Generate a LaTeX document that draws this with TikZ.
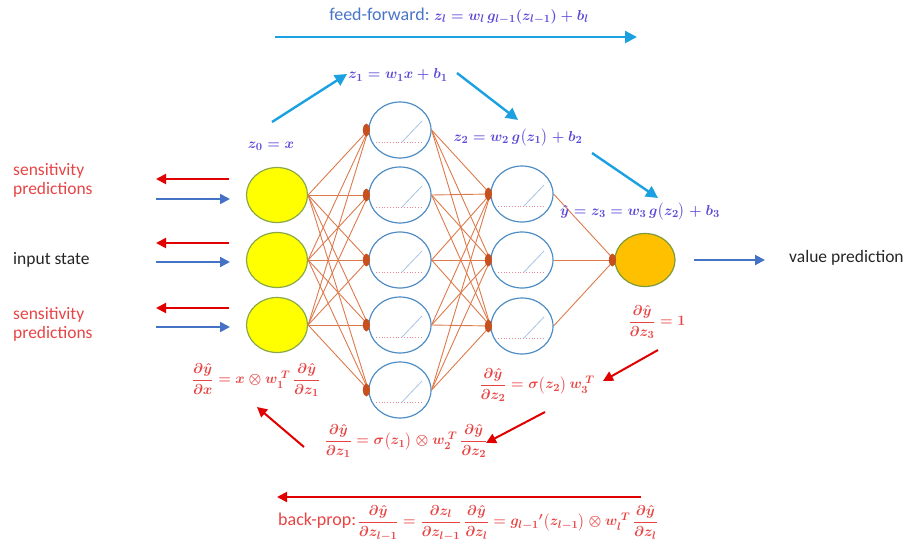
\documentclass[tikz,border=0pt]{standalone}
\usepackage{amsmath}
\usepackage[no-math]{fontspec}
\setmainfont{Carlito}
\usetikzlibrary{shapes.geometric,arrows.meta}
\definecolor{ffblue}{HTML}{4A74C8}
\definecolor{mathblue}{HTML}{5A48D8}
\definecolor{cyanarr}{HTML}{1BA1E2}
\definecolor{redtxt}{HTML}{E84444}
\definecolor{redarr}{HTML}{E00000}
\definecolor{bluearr}{HTML}{4472C4}
\definecolor{conn}{HTML}{DD7A4C}
\definecolor{dotc}{HTML}{C8501E}
\definecolor{ylw}{HTML}{FFFF00}
\definecolor{ylwb}{HTML}{8AA84A}
\definecolor{org}{HTML}{FFC000}
\definecolor{orgb}{HTML}{7F9A3A}
\definecolor{hidb}{HTML}{4E8DC4}
\definecolor{plotb}{HTML}{A8C4E4}
\definecolor{plotp}{HTML}{E88898}
\begin{document}
\begin{tikzpicture}[x=1pt,y=-1pt,
  inp/.style={ellipse,draw=ylwb,line width=1.2pt,fill=ylw,minimum width=61pt,minimum height=55pt,inner sep=0pt},
  outn/.style={ellipse,draw=orgb,line width=1.2pt,fill=org,minimum width=60pt,minimum height=53pt,inner sep=0pt},
  hid/.style={ellipse,draw=hidb,line width=1.2pt,fill=white,minimum width=62pt,minimum height=56pt,inner sep=0pt},
  wire/.style={draw=conn,line width=0.9pt},
  cyarr/.style={draw=cyanarr,line width=2.4pt,-{Triangle[length=12pt,width=12pt]}},
  rdarr/.style={draw=redarr,line width=2pt,-{Triangle[length=10pt,width=10pt]}},
  blarr/.style={draw=bluearr,line width=2pt,-{Triangle[length=10pt,width=10pt]}},
  mb/.style={text=mathblue,font=\fontsize{15.5}{18}\selectfont\boldmath,inner sep=0pt},
  mr/.style={text=redtxt,font=\fontsize{15.5}{18}\selectfont\boldmath,inner sep=0pt},
  lbl/.style={font=\fontsize{17.5}{19}\selectfont,align=left,inner sep=0pt,anchor=west}]
\useasboundingbox (0,0) rectangle (909,557);

% nodes
\node[inp] (i1) at (277,195) {};
\node[inp] (i2) at (277,260) {};
\node[inp] (i3) at (277,325) {};
\foreach \k/\yy in {1/130,2/195,3/260,4/325,5/390}{
  \node[hid] (h\k) at (400,\yy) {};
}
\foreach \k/\yy in {1/194,2/260,3/326}{
  \node[hid] (g\k) at (522,\yy) {};
}
\node[outn] (o) at (645,260) {};

% plots inside hidden nodes
\foreach \n in {h1,h2,h3,h4,h5,g1,g2,g3}{
  \draw[plotp,dotted,line width=0.8pt] ([shift={(-24,12)}]\n.center) -- ([shift={(23,12)}]\n.center);
  \draw[plotb,line width=0.8pt] ([shift={(2,12)}]\n.center) -- ([shift={(22,-9)}]\n.center);
}

% wires
\foreach \a in {i1,i2,i3}{
  \foreach \b in {h1,h2,h3,h4,h5}{
    \draw[wire] (\a.east) -- (\b.west);
  }
}
\foreach \a in {h1,h2,h3,h4,h5}{
  \foreach \b in {g1,g2,g3}{
    \draw[wire] (\a.east) -- (\b.west);
  }
}
\foreach \a in {g1,g2,g3}{
  \draw[wire] (\a.east) -- (o.west);
}
\foreach \b in {h1,h2,h3,h4,h5,g1,g2,g3,o}{
  \fill[dotc] ([xshift=-2pt]\b.west) ellipse (3.5pt and 6.5pt);
}

% feed-forward
\node[inner sep=0pt] (fft) at (459,16) {{\color{ffblue}\fontsize{18}{20}\selectfont feed-forward:}\ \ {\color{mathblue}\fontsize{15.5}{18}\selectfont\boldmath $z_l = w_l\, g_{l-1}(z_{l-1}) + b_l$}};
\coordinate (ffa) at (275,37);
\coordinate (ffb) at (637,37);
\draw[cyarr] (ffa) -- (ffb);

\node[mb] (z0) at (271,146) {$z_0 = x$};
\node[mb] (z1) at (398,75) {$z_1 = w_1 x + b_1$};
\node[mb] (z2) at (518,138) {$z_2 = w_2\, g\bigl(z_1\bigr) + b_2$};
\node[mb] (z3) at (640,212) {$\hat y = z_3 = w_3\, g\bigl(z_2\bigr) + b_3$};
\coordinate (c1a) at (272,122);
\coordinate (c1b) at (347,74);
\coordinate (c2a) at (457,73);
\coordinate (c2b) at (518,120);
\coordinate (c3a) at (592,153);
\coordinate (c3b) at (658,198);
\draw[cyarr] (c1a) -- (c1b);
\draw[cyarr] (c2a) -- (c2b);
\draw[cyarr] (c3a) -- (c3b);

% left side
\node[lbl,text=redtxt] (s1) at (13,180) {sensitivity\\predictions};
\node[lbl,text=black!85] (ist) at (13,260) {input state};
\node[lbl,text=redtxt] (s3) at (13,324) {sensitivity\\predictions};
\foreach \yr/\yb/\n in {179/199/1,243/262/2,308/327/3}{
  \coordinate (ra\n) at (229,\yr);
  \coordinate (rb\n) at (156,\yr);
  \coordinate (ba\n) at (156,\yb);
  \coordinate (bb\n) at (230,\yb);
  \draw[rdarr] (ra\n) -- (rb\n);
  \draw[blarr] (ba\n) -- (bb\n);
}

% right side
\coordinate (va) at (694,260);
\coordinate (vb) at (765,260);
\draw[blarr] (va) -- (vb);
\node[lbl,text=black!85] (vp) at (789,258) {value prediction};

% back-prop formulas
\node[mr] (d3) at (657,322) {$\dfrac{\partial\hat y}{\partial z_3} = 1$};
\node[mr] (d2) at (537,385) {$\dfrac{\partial\hat y}{\partial z_2} = \sigma\bigl(z_2\bigr)\, w_3^{\;T}$};
\node[mr] (d1) at (406,441) {$\dfrac{\partial\hat y}{\partial z_1} = \sigma\bigl(z_1\bigr)\otimes w_2^{\;T}\, \dfrac{\partial\hat y}{\partial z_2}$};
\node[mr] (dx) at (256,380) {$\dfrac{\partial\hat y}{\partial x} = x\otimes w_1^{\;T}\, \dfrac{\partial\hat y}{\partial z_1}$};
\coordinate (r3a) at (658,350);
\coordinate (r3b) at (603,381);
\coordinate (r2a) at (545,412);
\coordinate (r2b) at (486,443);
\coordinate (r1a) at (304,447);
\coordinate (r1b) at (257,407);
\draw[rdarr] (r3a) -- (r3b);
\draw[rdarr] (r2a) -- (r2b);
\draw[rdarr] (r1a) -- (r1b);

\coordinate (bpa) at (641,497);
\coordinate (bpb) at (277,497);
\draw[rdarr] (bpa) -- (bpb);
\node[inner sep=0pt] (bp) at (468,523) {{\color{redtxt}\fontsize{18}{20}\selectfont back-prop:}\,{\color{redtxt}\fontsize{15.5}{18}\selectfont\boldmath $\dfrac{\partial\hat y}{\partial z_{l-1}} = \dfrac{\partial z_l}{\partial z_{l-1}}\,\dfrac{\partial\hat y}{\partial z_l} = g_{l-1}{}'\bigl(z_{l-1}\bigr)\otimes w_l^{\;T}\,\dfrac{\partial\hat y}{\partial z_l}$}};
\end{tikzpicture}
\end{document}
